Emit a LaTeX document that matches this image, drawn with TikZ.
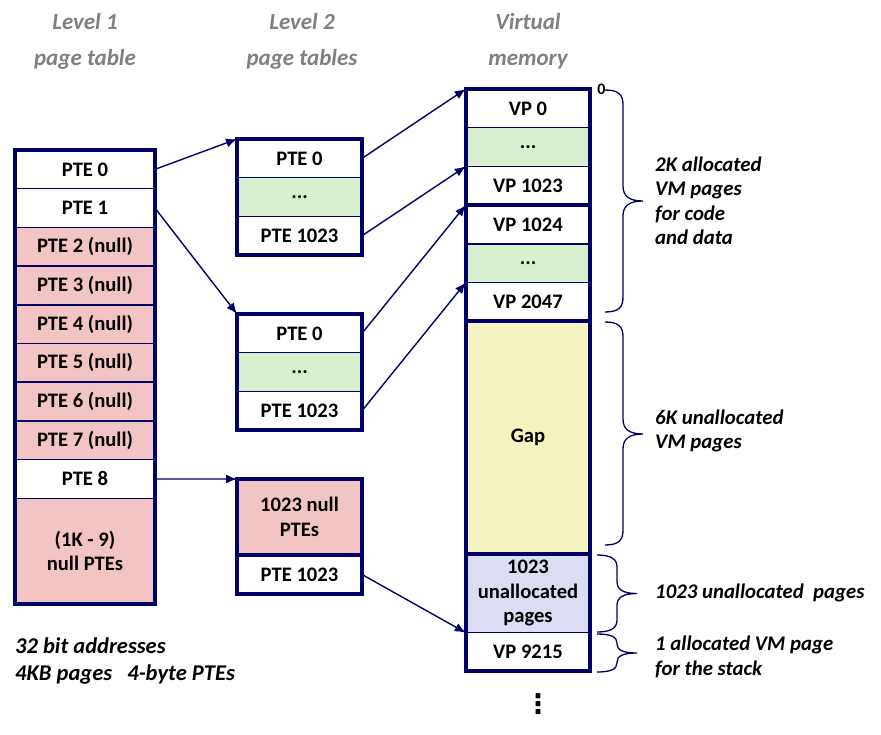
\documentclass[tikz,border=0pt]{standalone}
\usepackage{fontspec}
\setmainfont{Carlito}
\newfontfamily\dotsfont{DejaVu Sans}
\usetikzlibrary{arrows.meta}

\definecolor{tablenavy}{RGB}{0,0,102}
\definecolor{nullpink}{RGB}{242,196,196}
\definecolor{dotsgreen}{RGB}{216,240,208}
\definecolor{gapyellow}{RGB}{245,243,192}
\definecolor{unalloclav}{RGB}{220,220,242}
\definecolor{headgray}{RGB}{128,128,128}

\begin{document}
\begin{tikzpicture}[x=1pt,y=-1pt,
row/.style={draw=tablenavy,line width=1.5pt,fill=white,inner sep=0pt,outer sep=0pt,minimum height=38.7pt,align=center,font=\fontsize{20.6}{24.5}\selectfont\bfseries},
l1row/.style={row,minimum width=140pt},
l2row/.style={row,minimum width=125pt},
vmrow/.style={row,minimum width=124.5pt},
frame/.style={draw=tablenavy,line width=4pt},
pointer/.style={-{Latex[length=11pt,width=9pt]},tablenavy,line width=1.4pt},
bracket/.style={tablenavy,line width=1.3pt},
bracenote/.style={anchor=west,inner sep=0pt,align=left,font=\fontsize{20.8}{24.5}\selectfont\bfseries\itshape},
heading/.style={anchor=base,text=headgray,font=\fontsize{23}{23}\selectfont\bfseries\itshape},
note/.style={anchor=base west,inner sep=0pt,font=\fontsize{22.5}{22.5}\selectfont\bfseries\itshape}]

\useasboundingbox (0,0) rectangle (881,734);

\node (h1a) at (85,29.3) [heading] {Level 1};
\node (h1b) at (85,65) [heading] {page table};
\node (h2a) at (302,29.3) [heading] {Level 2};
\node (h2b) at (302,65) [heading] {page tables};
\node (h3a) at (528,29.3) [heading] {Virtual};
\node (h3b) at (528,65) [heading] {memory};

\node (p0) at (85,169.35) [l1row] {PTE 0};
\node (p1) at (85,208.05) [l1row] {PTE 1};
\node (p2) at (85,246.75) [l1row,fill=nullpink] {PTE 2 (null)};
\node (p3) at (85,285.45) [l1row,fill=nullpink] {PTE 3 (null)};
\node (p4) at (85,324.15) [l1row,fill=nullpink] {PTE 4 (null)};
\node (p5) at (85,362.85) [l1row,fill=nullpink] {PTE 5 (null)};
\node (p6) at (85,401.55) [l1row,fill=nullpink] {PTE 6 (null)};
\node (p7) at (85,440.25) [l1row,fill=nullpink] {PTE 7 (null)};
\node (p8) at (85,478.95) [l1row] {PTE 8};
\node (p9) at (85,551.15) [l1row,fill=nullpink,minimum height=105.7pt] {(1K - 9)\\null PTEs};
\draw [frame] (p0.north west) rectangle (p9.south east);

\node (a0) at (299.5,158.35) [l2row] {PTE 0};
\node (a1) at (299.5,197.05) [l2row,fill=dotsgreen] {...};
\node (a2) at (299.5,235.75) [l2row] {PTE 1023};
\draw [frame] (a0.north west) rectangle (a2.south east);

\node (b0) at (299.5,333.35) [l2row] {PTE 0};
\node (b1) at (299.5,372.05) [l2row,fill=dotsgreen] {...};
\node (b2) at (299.5,410.75) [l2row] {PTE 1023};
\draw [frame] (b0.north west) rectangle (b2.south east);

\node (c0) at (299.5,517) [l2row,fill=nullpink,minimum height=76pt] {1023 null\\PTEs};
\node (c1) at (299.5,574.5) [l2row,minimum height=39pt] {PTE 1023};
\draw [frame] (c0.north west) rectangle (c1.south east);
\draw [frame] (c0.south west) -- (c0.south east);

\node (v0) at (528,108.35) [vmrow] {VP 0};
\node (v1) at (528,147.05) [vmrow,fill=dotsgreen] {...};
\node (v2) at (528,185.75) [vmrow] {VP 1023};
\node (v3) at (528,224.45) [vmrow] {VP 1024};
\node (v4) at (528,263.15) [vmrow,fill=dotsgreen] {...};
\node (v5) at (528,301.85) [vmrow] {VP 2047};
\node (v6) at (528,437.6) [vmrow,fill=gapyellow,minimum height=232.8pt] {Gap};
\node (v7) at (528,593.35) [vmrow,fill=unalloclav,minimum height=78.7pt] {1023\\unallocated\\pages};
\node (v8) at (528,652.05) [vmrow] {VP 9215};
\draw [frame] (v0.north west) rectangle (v8.south east);
\draw [frame] (v2.south west) -- (v2.south east);
\draw [frame] (v5.south west) -- (v5.south east);
\draw [frame] (v6.south west) -- (v6.south east);

\node (zero) at (601.5,89.5) [inner sep=0pt,font=\fontsize{16}{16}\selectfont\bfseries] {0};
\node (more) at (538,704) [inner sep=0pt,font=\fontsize{27}{27}\selectfont\dotsfont\bfseries] {⋮};

\draw [pointer] (p0.east) -- (a0.north west);
\draw [pointer] (p1.east) -- (b0.north west);
\draw [pointer] (p8.east) -- (c0.north west);
\draw [pointer] (a0.east) -- (v0.north west);
\draw [pointer] (a2.east) -- (v2.north west);
\draw [pointer] (b0.east) -- (v3.north west);
\draw [pointer] (b2.east) -- (v5.north west);
\draw [pointer] (c1.east) -- (v7.south west);

\draw [bracket] (605,90) .. controls (619,90) and (623,95) .. (623,105) -- (623,186) .. controls (623,196) and (629,201) .. (643,201) .. controls (629,201) and (623,206) .. (623,216) -- (623,297) .. controls (623,307) and (619,312) .. (605,312);
\draw [bracket] (605,322) .. controls (619,322) and (623,327) .. (623,337) -- (623,419) .. controls (623,429) and (629,434) .. (643,434) .. controls (629,434) and (623,439) .. (623,449) -- (623,530) .. controls (623,540) and (619,545) .. (605,545);
\draw [bracket] (597,555) .. controls (611,555) and (617,559) .. (617,567) -- (617,581.5) .. controls (617,589.5) and (623,593.5) .. (637,593.5) .. controls (623,593.5) and (617,597.5) .. (617,605.5) -- (617,620) .. controls (617,628) and (611,632) .. (597,632);
\draw [bracket] (597,634) .. controls (611,634) and (617,637) .. (617,643) -- (617,644) .. controls (617,650) and (623,653) .. (637,653) .. controls (623,653) and (617,656) .. (617,662) -- (617,663) .. controls (617,669) and (611,672) .. (597,672);

\node (n1) at (655,201) [bracenote] {2K allocated\\VM pages\\for code\\and data};
\node (n2) at (655,431) [bracenote] {6K unallocated\\VM pages};
\node (n3) at (655,598) [bracenote,anchor=base west] {1023 unallocated~ pages};
\node (n4) at (655,657) [bracenote] {1 allocated VM page\\for the stack};

\node (m1) at (15,653) [note] {32 bit addresses};
\node (m2) at (15,680) [note] {4KB pages~~ 4-byte PTEs};

\end{tikzpicture}
\end{document}
